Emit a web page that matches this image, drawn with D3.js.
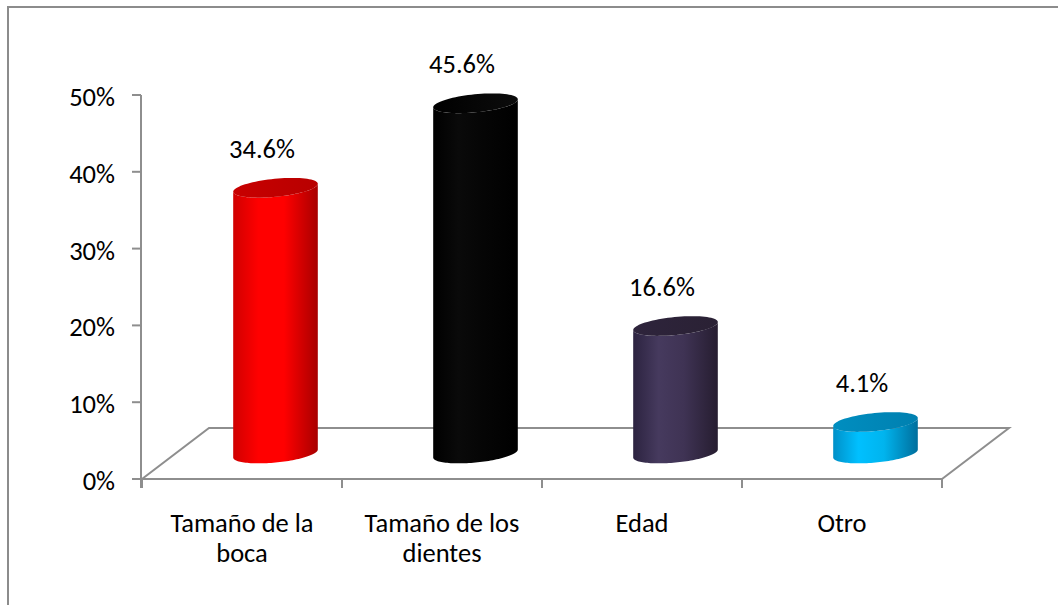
<!DOCTYPE html>
<html>
<head>
<meta charset="utf-8">
<script src="https://cdn.jsdelivr.net/npm/d3@7"></script>
<style>
  html, body { margin: 0; padding: 0; background: #fff; }
  svg { display: block; }
  text { font-family: Carlito, "Liberation Sans", Arial, sans-serif; fill: #000; }
</style>
</head>
<body>
<svg id="chart" width="1058" height="605"></svg>
<script>
// ---- data ----
const categories = [["Tamaño de la", "boca"], ["Tamaño de los", "dientes"], ["Edad"], ["Otro"]];
const values = [34.6, 45.6, 16.6, 4.1];
const yTicks = [0, 10, 20, 30, 40, 50];
const sideColors = [
  ["#d00000", "#ff0000", "#ff0000", "#a80000"],
  ["#000000", "#0a0a0a", "#050505", "#000000"],
  ["#2c2340", "#463a5e", "#3f3354", "#261d30"],
  ["#0090c8", "#00c0ff", "#00b4ee", "#006e9c"]
];
const topColors = [["#c80000", "#b80000"], ["#000000", "#0c0c0c"], ["#2e243c", "#2a2134"], ["#008ec0", "#0080b0"]];

const svg = d3.select("#chart");
const W = 1058, H = 605;
const FS = 26.5;

// frame
svg.append("rect").attr("x", 8).attr("y", 7).attr("width", W + 20).attr("height", H + 20)
  .attr("fill", "#fff").attr("stroke", "#8c8c8c").attr("stroke-width", 2);

const x = d3.scaleBand().domain(d3.range(categories.length)).range([142, 942]);
const y = d3.scaleLinear().domain([0, 50]).range([479, 95]);
const depthX = 67, depthY = -51;
const floorColor = "#8e8e8e";

// floor
const floorPts = [[x.range()[0], y(0)], [x.range()[0] + depthX, y(0) + depthY],
                  [x.range()[1] + depthX, y(0) + depthY], [x.range()[1], y(0)]];
svg.append("path").attr("d", d3.line()(floorPts))
  .attr("fill", "none").attr("stroke", floorColor).attr("stroke-width", 2);

// y axis
svg.append("line").attr("x1", 141).attr("x2", 141).attr("y1", y(50)).attr("y2", y(0) + 9)
  .attr("stroke", floorColor).attr("stroke-width", 2);
svg.append("line").attr("x1", 141).attr("x2", 942).attr("y1", y(0)).attr("y2", y(0))
  .attr("stroke", floorColor).attr("stroke-width", 2);
yTicks.forEach(t => {
  svg.append("line").attr("x1", 132).attr("x2", 141).attr("y1", y(t)).attr("y2", y(t))
    .attr("stroke", floorColor).attr("stroke-width", 2);
  svg.append("text").attr("x", 115).attr("y", y(t) + 11).attr("text-anchor", "end")
    .attr("font-size", FS).text(t + "%");
});
// category ticks
d3.range(categories.length + 1).forEach(i => {
  const xx = x.range()[0] + i * x.step();
  svg.append("line").attr("x1", xx).attr("x2", xx).attr("y1", y(0)).attr("y2", y(0) + 9)
    .attr("stroke", floorColor).attr("stroke-width", 2);
});

// gradients
const defs = svg.append("defs");
sideColors.forEach((cs, i) => {
  const g = defs.append("linearGradient").attr("id", "side" + i).attr("x1", 0).attr("x2", 1).attr("y1", 0).attr("y2", 0);
  [0, 0.3, 0.6, 1].forEach((o, k) => g.append("stop").attr("offset", o).attr("stop-color", cs[k]));
  const t = defs.append("linearGradient").attr("id", "top" + i).attr("x1", 0).attr("x2", 1).attr("y1", 0).attr("y2", 0);
  t.append("stop").attr("offset", 0).attr("stop-color", topColors[i][0]);
  t.append("stop").attr("offset", 1).attr("stop-color", topColors[i][1]);
});

// cylinders
const a = 42.5, b = 9, theta = -5.6 * Math.PI / 180;
const t0 = Math.atan(-(b / a) * Math.tan(theta));
function ept(cx, cy, t) {
  return [cx + a * Math.cos(t) * Math.cos(theta) - b * Math.sin(t) * Math.sin(theta),
          cy + a * Math.cos(t) * Math.sin(theta) + b * Math.sin(t) * Math.cos(theta)];
}
const N = 60;
values.forEach((v, i) => {
  const cx = x(i) + x.bandwidth() / 2 + depthX / 2;
  const cyB = y(0) + depthY / 2;
  const cyT = y(v) + depthY / 2;
  const pts = [];
  pts.push(ept(cx, cyT, t0 + Math.PI));
  for (let k = 0; k <= N; k++) pts.push(ept(cx, cyB, t0 + Math.PI - Math.PI * k / N));
  for (let k = 0; k <= N; k++) pts.push(ept(cx, cyT, t0 + Math.PI * k / N));
  svg.append("path").attr("d", d3.line()(pts) + "Z").attr("fill", `url(#side${i})`);
  const top = d3.range(0, 2 * Math.PI, Math.PI / 40).map(t => ept(cx, cyT, t));
  svg.append("path").attr("d", d3.line()(top) + "Z").attr("fill", `url(#top${i})`);
  // value label
  svg.append("text").attr("x", x(i) + x.bandwidth() / 2 + 20).attr("y", cyT - 30)
    .attr("text-anchor", "middle").attr("font-size", FS).text(d3.format(".1f")(v) + "%");
});

// category labels
categories.forEach((lines, i) => {
  lines.forEach((ln, k) => {
    svg.append("text").attr("x", x(i) + x.bandwidth() / 2).attr("y", 532 + k * 30)
      .attr("text-anchor", "middle").attr("font-size", FS).text(ln);
  });
});
</script>
</body>
</html>
